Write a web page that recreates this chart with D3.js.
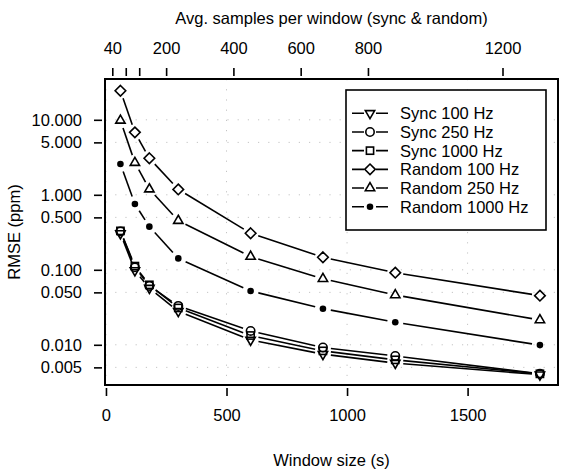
<!DOCTYPE html>
<html>
<head>
<meta charset="utf-8">
<script src="https://cdn.jsdelivr.net/npm/d3@7"></script>
<style>
  html, body { margin: 0; padding: 0; background: #fff; }
  svg { display: block; font-family: "Liberation Sans", Arial, Helvetica, sans-serif; }
</style>
</head>
<body>
<svg id="chart" width="562" height="470"></svg>
<script>
// Window sizes in seconds (shared by every series)
const windowSizes = [60, 120, 180, 300, 600, 900, 1200, 1800];

// RMSE (ppm) per window size
const sync100    = [0.305, 0.098, 0.057, 0.028, 0.0116, 0.0075, 0.0057, 0.0040];
const sync250    = [0.325, 0.108, 0.061, 0.033, 0.0153, 0.0092, 0.0071, 0.0041];
const sync1000   = [0.330, 0.112, 0.063, 0.031, 0.0133, 0.0083, 0.0063, 0.0041];
const random100  = [24.4, 6.8, 3.07, 1.18, 0.307, 0.147, 0.0915, 0.0452];
const random250  = [9.8, 2.68, 1.19, 0.452, 0.150, 0.076, 0.0461, 0.0214];
const random1000 = [2.57, 0.754, 0.376, 0.142, 0.0522, 0.0303, 0.0200, 0.0099];

const seriesNames = ["Sync 100 Hz", "Sync 250 Hz", "Sync 1000 Hz",
                     "Random 100 Hz", "Random 250 Hz", "Random 1000 Hz"];
const seriesValues = [sync100, sync250, sync1000, random100, random250, random1000];
const seriesSymbols = ["triangleDown", "circle", "square", "diamond", "triangle", "dot"];

// Axis ticks
const xTicks = [0, 500, 1000, 1500];
const yTicks = [0.005, 0.01, 0.05, 0.1, 0.5, 1, 5, 10];
const yTickLabels = ["0.005", "0.010", "0.050", "0.100", "0.500", "1.000", "5.000", "10.000"];
const topTicks = [40, 80, 120, 200, 400, 600, 800, 1200];
const topTickLabels = ["40", "", "", "200", "400", "600", "800", "1200"];

const xTitle = "Window size (s)";
const yTitle = "RMSE (ppm)";
const topTitle = "Avg. samples per window (sync & random)";

// Plot region
const plot = { left: 105, right: 558, top: 79, bottom: 385 };
const fontSize = 16.5;

const svg = d3.select("#chart");

const x = d3.scaleLinear().domain([-4, 1875]).range([plot.left, plot.right]);
const y = d3.scaleLog().domain([0.00291, 35.0]).range([plot.bottom, plot.top]);
const xTop = d3.scaleLinear().domain([40, 1200]).range([112.3, 502.5]);

// Dotted grid
const grid = svg.append("g")
  .attr("stroke", "#c4c4c4")
  .attr("stroke-width", 1)
  .attr("stroke-dasharray", "1.2,9")
  .attr("fill", "none");
grid.selectAll("line.h").data(yTicks).join("line")
  .attr("class", "h")
  .attr("x1", plot.left).attr("x2", plot.right)
  .attr("y1", d => y(d)).attr("y2", d => y(d));
grid.selectAll("line.v").data(xTicks).join("line")
  .attr("class", "v")
  .attr("x1", d => x(d)).attr("x2", d => x(d))
  .attr("y1", plot.top).attr("y2", plot.bottom);

// Axes (ticks sit just outside the frame, no axis line)
const tickLen = 8, tickGap = 3;

const bottomAxis = svg.append("g")
  .attr("transform", `translate(0,${plot.bottom + tickGap})`)
  .call(d3.axisBottom(x).tickValues(xTicks).tickSize(tickLen).tickPadding(13).tickFormat(d3.format("d")));

const leftAxis = svg.append("g")
  .attr("transform", `translate(${plot.left - tickGap},0)`)
  .call(d3.axisLeft(y).tickValues(yTicks).tickSize(tickLen).tickPadding(12)
        .tickFormat((d, i) => yTickLabels[i]));

const topAxis = svg.append("g")
  .attr("transform", `translate(0,${plot.top - tickGap})`)
  .call(d3.axisTop(xTop).tickValues(topTicks).tickSize(tickLen).tickPadding(14)
        .tickFormat((d, i) => topTickLabels[i]));

[bottomAxis, leftAxis, topAxis].forEach(g => {
  g.select(".domain").remove();
  g.selectAll(".tick line").attr("stroke", "#000").attr("stroke-width", 1.6);
  g.selectAll(".tick text")
    .attr("fill", "#000")
    .style("font-size", fontSize + "px")
    .style("font-family", "'Liberation Sans', Arial, Helvetica, sans-serif");
});

// Axis titles
svg.append("text")
  .attr("x", (plot.left + plot.right) / 2).attr("y", 466)
  .attr("text-anchor", "middle").style("font-size", fontSize + "px")
  .text(xTitle);
svg.append("text")
  .attr("x", (plot.left + plot.right) / 2).attr("y", 24)
  .attr("text-anchor", "middle").style("font-size", fontSize + "px")
  .text(topTitle);
svg.append("text")
  .attr("transform", `translate(20,${(plot.top + plot.bottom) / 2}) rotate(-90)`)
  .attr("text-anchor", "middle").style("font-size", fontSize + "px")
  .text(yTitle);

// Marker shapes
function drawSymbol(g, type, cx, cy) {
  const sw = 1.6;
  if (type === "circle") {
    g.append("circle").attr("cx", cx).attr("cy", cy).attr("r", 4.2)
      .attr("fill", "none").attr("stroke", "#000").attr("stroke-width", sw);
  } else if (type === "square") {
    g.append("rect").attr("x", cx - 3.6).attr("y", cy - 3.6).attr("width", 7.2).attr("height", 7.2)
      .attr("fill", "none").attr("stroke", "#000").attr("stroke-width", sw);
  } else if (type === "diamond") {
    const r = 5.3;
    g.append("path").attr("d", `M${cx},${cy - r}L${cx + r},${cy}L${cx},${cy + r}L${cx - r},${cy}Z`)
      .attr("fill", "none").attr("stroke", "#000").attr("stroke-width", sw);
  } else if (type === "triangle" || type === "triangleDown") {
    const r = 5.4, s = type === "triangle" ? 1 : -1;
    const p = [[cx, cy - s * r], [cx + r * 0.866, cy + s * r * 0.5], [cx - r * 0.866, cy + s * r * 0.5]];
    g.append("path").attr("d", "M" + p.map(q => q.join(",")).join("L") + "Z")
      .attr("fill", "none").attr("stroke", "#000").attr("stroke-width", sw);
  } else if (type === "dot") {
    g.append("circle").attr("cx", cx).attr("cy", cy).attr("r", 3.3).attr("fill", "#000");
  }
}

// Series: segments with a gap around every marker
const gap = 8;
const dataLayer = svg.append("g");
seriesValues.forEach((vals, si) => {
  const pts = windowSizes.map((w, i) => [x(w), y(vals[i])]);
  const g = dataLayer.append("g");
  for (let i = 0; i < pts.length - 1; i++) {
    const [x1, y1] = pts[i], [x2, y2] = pts[i + 1];
    const len = Math.hypot(x2 - x1, y2 - y1);
    if (len <= 2 * gap) continue;
    const ux = (x2 - x1) / len, uy = (y2 - y1) / len;
    g.append("line")
      .attr("x1", x1 + ux * gap).attr("y1", y1 + uy * gap)
      .attr("x2", x2 - ux * gap).attr("y2", y2 - uy * gap)
      .attr("stroke", "#000").attr("stroke-width", 1.6);
  }
  pts.forEach(([px, py]) => drawSymbol(g, seriesSymbols[si], px, py));
});

// Frame
svg.append("rect")
  .attr("x", plot.left).attr("y", plot.top)
  .attr("width", plot.right - plot.left).attr("height", plot.bottom - plot.top)
  .attr("fill", "none").attr("stroke", "#000").attr("stroke-width", 2);

// Legend
const legend = { left: 346, top: 90, right: 546, bottom: 230 };
const lg = svg.append("g");
lg.append("rect")
  .attr("x", legend.left).attr("y", legend.top)
  .attr("width", legend.right - legend.left).attr("height", legend.bottom - legend.top)
  .attr("fill", "#fff").attr("stroke", "#000").attr("stroke-width", 1.6);
const rowY = d3.scaleLinear().domain([0, seriesNames.length - 1]).range([113.3, 206.7]);
seriesNames.forEach((name, i) => {
  const cy = rowY(i);
  lg.append("line").attr("x1", 352).attr("x2", 388).attr("y1", cy).attr("y2", cy)
    .attr("stroke", "#000").attr("stroke-width", 1.6);
  const m = lg.append("g");
  m.append("rect").attr("x", 370 - 6).attr("y", cy - 6).attr("width", 12).attr("height", 12).attr("fill", "#fff");
  drawSymbol(m, seriesSymbols[i], 370, cy);
  lg.append("text").attr("x", 400).attr("y", cy).attr("dy", "0.36em")
    .style("font-size", fontSize + "px").text(name);
});
</script>
</body>
</html>
